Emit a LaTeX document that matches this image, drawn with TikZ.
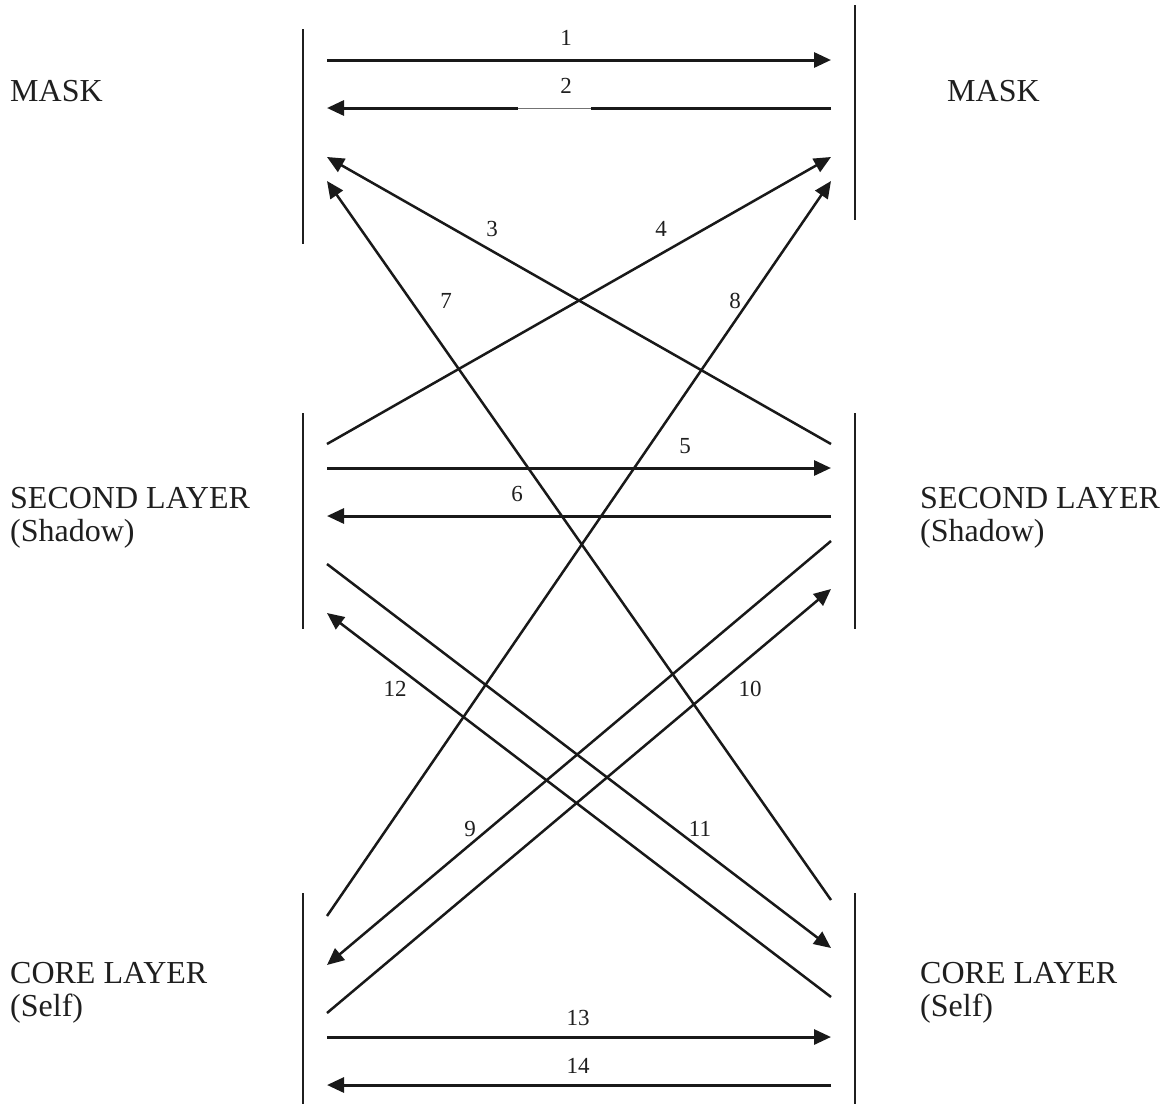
\documentclass[tikz,border=0pt]{standalone}
\usepackage{fontspec}
\setmainfont{Liberation Serif}
\usetikzlibrary{arrows.meta}
\begin{document}
\begin{tikzpicture}[x=1pt,y=-1pt,
  bar/.style={line width=2.2pt,black!88},
  harrow/.style={line width=3pt,black!90,-{Triangle[length=17pt,width=15pt]}},
  darrow/.style={line width=2.5pt,black!90,-{Triangle[length=17pt,width=15pt]}},
  num/.style={font=\fontsize{23}{25}\selectfont,inner sep=0pt,text=black!88},
  side/.style={font=\fontsize{32}{33}\selectfont,inner sep=0pt,anchor=base west,align=left,text=black!88}]
\useasboundingbox[fill=white] (0,0) rectangle (1174,1109);

% vertical bars
\coordinate (lt1) at (303,29);  \coordinate (lt2) at (303,244);
\coordinate (rt1) at (855,5);   \coordinate (rt2) at (855,220);
\coordinate (lm1) at (303,413); \coordinate (lm2) at (303,629);
\coordinate (rm1) at (855,413); \coordinate (rm2) at (855,629);
\coordinate (lb1) at (303,893); \coordinate (lb2) at (303,1104);
\coordinate (rb1) at (855,893); \coordinate (rb2) at (855,1104);
\draw[bar] (lt1) -- (lt2);
\draw[bar] (rt1) -- (rt2);
\draw[bar] (lm1) -- (lm2);
\draw[bar] (rm1) -- (rm2);
\draw[bar] (lb1) -- (lb2);
\draw[bar] (rb1) -- (rb2);

% side texts (base = baseline of last line)
\node[side] (maskL) at (10,101) {MASK};
\node[side] (maskR) at (947,101) {MASK};
\node[side] (secL) at (10,541) {SECOND LAYER\\(Shadow)};
\node[side] (secR) at (920,541) {SECOND LAYER\\(Shadow)};
\node[side] (coreL) at (10,1016) {CORE LAYER\\(Self)};
\node[side] (coreR) at (920,1016) {CORE LAYER\\(Self)};

% endpoints
\coordinate (p1s) at (327,60);   \coordinate (p1e) at (831,60);
\coordinate (p2s) at (831,108);  \coordinate (p2e) at (327,108);
\coordinate (p3s) at (831,444);  \coordinate (p3e) at (327,157);
\coordinate (p4s) at (327,444);  \coordinate (p4e) at (831,157);
\coordinate (p5s) at (327,468);  \coordinate (p5e) at (831,468);
\coordinate (p6s) at (831,516);  \coordinate (p6e) at (327,516);
\coordinate (p7s) at (831,900);  \coordinate (p7e) at (327,181);
\coordinate (p8s) at (327,916);  \coordinate (p8e) at (831,181);
\coordinate (p9s) at (831,541);  \coordinate (p9e) at (327,965);
\coordinate (p10s) at (327,1013); \coordinate (p10e) at (831,589);
\coordinate (p11s) at (327,564); \coordinate (p11e) at (831,948);
\coordinate (p12s) at (831,997); \coordinate (p12e) at (327,613);
\coordinate (p13s) at (327,1037); \coordinate (p13e) at (831,1037);
\coordinate (p14s) at (831,1085); \coordinate (p14e) at (327,1085);

\draw[harrow] (p1s) -- (p1e);
\draw[harrow] (p2s) -- (p2e);
\fill[white] (518,105) rectangle (591,111);
\coordinate (g1) at (518,108); \coordinate (g2) at (591,108);
\draw[line width=0.9pt,black!55] (g1) -- (g2);
\draw[darrow] (p3s) -- (p3e);
\draw[darrow] (p4s) -- (p4e);
\draw[harrow] (p5s) -- (p5e);
\draw[harrow] (p6s) -- (p6e);
\draw[darrow] (p7s) -- (p7e);
\draw[darrow] (p8s) -- (p8e);
\draw[darrow] (p9s) -- (p9e);
\draw[darrow] (p10s) -- (p10e);
\draw[darrow] (p11s) -- (p11e);
\draw[darrow] (p12s) -- (p12e);
\draw[harrow] (p13s) -- (p13e);
\draw[harrow] (p14s) -- (p14e);

% labels
\node[num] (n1) at (566,38) {1};
\node[num] (n2) at (566,86) {2};
\node[num] (n3) at (492,229) {3};
\node[num] (n4) at (661,229) {4};
\node[num] (n5) at (685,446) {5};
\node[num] (n6) at (517,494) {6};
\node[num] (n7) at (446,301) {7};
\node[num] (n8) at (735,301) {8};
\node[num] (n9) at (470,829) {9};
\node[num] (n10) at (750,689) {10};
\node[num] (n11) at (700,829) {11};
\node[num] (n12) at (395,689) {12};
\node[num] (n13) at (578,1018) {13};
\node[num] (n14) at (578,1066) {14};
\end{tikzpicture}
\end{document}
